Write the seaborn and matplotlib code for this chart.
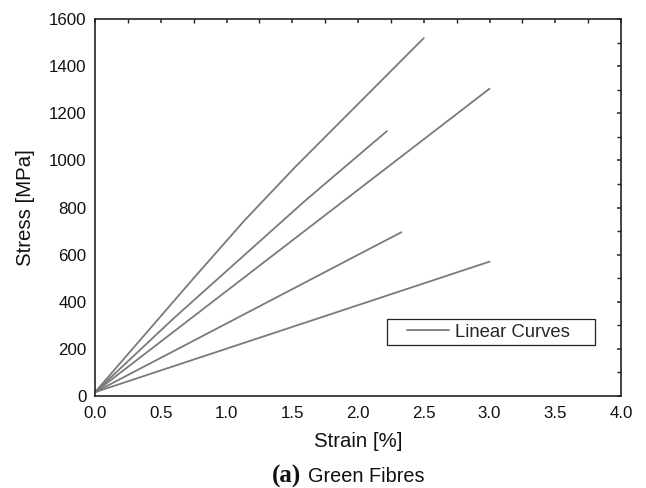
#!/usr/bin/env python3
"""Stress-strain curves of green fibres (linear curves)."""

import matplotlib.pyplot as plt
import pandas as pd
import seaborn as sns
from matplotlib.ticker import MultipleLocator

# values
strain_a = [0.0, 0.76, 1.14, 1.52, 2.5]
stress_a = [15, 506, 747, 971, 1520]

strain_b = [0.0, 0.6, 1.2, 1.6, 2.22]
stress_b = [15, 330, 630, 830, 1125]

strain_c = [0.0, 1.0, 2.0, 3.0]
stress_c = [15, 445, 875, 1305]

strain_d = [0.0, 1.0, 2.0, 2.33]
stress_d = [15, 307, 599, 695]

strain_e = [0.0, 1.0, 2.0, 3.0]
stress_e = [15, 200, 385, 570]

x_ticks = [0.0, 0.5, 1.0, 1.5, 2.0, 2.5, 3.0, 3.5, 4.0]
y_ticks = [0, 200, 400, 600, 800, 1000, 1200, 1400, 1600]

curves = {
    "a": (strain_a, stress_a),
    "b": (strain_b, stress_b),
    "c": (strain_c, stress_c),
    "d": (strain_d, stress_d),
    "e": (strain_e, stress_e),
}

frames = []
for name, (xs, ys) in curves.items():
    frames.append(pd.DataFrame({"strain": xs, "stress": ys, "curve": name}))
df = pd.concat(frames, ignore_index=True)

sns.set_style("white")
plt.rcParams["font.family"] = ["Liberation Sans", "DejaVu Sans"]

fig = plt.figure(figsize=(6.46, 4.88), dpi=100)
ax = fig.add_axes([0.1471, 0.1891, 0.8142, 0.7713])

sns.lineplot(
    data=df,
    x="strain",
    y="stress",
    units="curve",
    estimator=None,
    color="#7a7a7a",
    linewidth=1.3,
    label="Linear Curves",
    ax=ax,
)

ax.set_xlim(0, 4.0)
ax.set_ylim(0, 1600)
ax.set_xticks(x_ticks)
ax.set_xticklabels([f"{v:.1f}" for v in x_ticks])
ax.set_yticks(y_ticks)
ax.set_yticklabels([str(v) for v in y_ticks])
ax.xaxis.set_minor_locator(MultipleLocator(0.25))
ax.yaxis.set_minor_locator(MultipleLocator(100))

for side in ["left", "right", "top", "bottom"]:
    ax.spines[side].set_visible(True)
    ax.spines[side].set_color("#222222")
    ax.spines[side].set_linewidth(1.2)

ax.tick_params(axis="both", which="major", direction="in", length=6, width=1.1,
               color="#222222", labelsize=12.2, labelcolor="#111111")
ax.tick_params(axis="x", which="major", pad=7.5)
ax.tick_params(axis="y", which="major", pad=6)
ax.tick_params(axis="both", which="minor", direction="in", length=3, width=1.0,
               color="#222222")
ax.tick_params(top=True, right=True, which="both")
# the top and right sides only carry short ticks
for tick in ax.xaxis.get_major_ticks():
    tick.tick2line.set_markersize(3)
for tick in ax.yaxis.get_major_ticks():
    tick.tick2line.set_markersize(3)

ax.set_xlabel("Strain [%]", fontsize=14.7, color="#111111", labelpad=8)
ax.set_ylabel("Stress [MPa]", fontsize=14.7, color="#111111", labelpad=10)

handles, labels = ax.get_legend_handles_labels()
leg = ax.legend(handles[:1], ["Linear Curves    "], loc="upper left",
                bbox_to_anchor=(0.555, 0.2038), fontsize=13.3,
                frameon=True, fancybox=False, handlelength=3.1,
                handletextpad=0.32, borderpad=0.25, borderaxespad=0)
leg.get_frame().set_edgecolor("#222222")
leg.get_frame().set_linewidth(0.9)
leg.get_frame().set_alpha(1)
# the sample line starts some way in from the frame
legline = leg.legend_handles[0]
xd = list(legline.get_xdata())
yd = list(legline.get_ydata())
x0, x1 = min(xd), max(xd)
legline.set_data([x0 + (x1 - x0) * 0.27, x1], [yd[0], yd[0]])

fig.text(0.421, 0.0117, "(a)", family=["Liberation Serif", "DejaVu Serif"],
         weight="bold", fontsize=18, ha="left", va="baseline", color="#111111")
fig.text(0.477, 0.0117, "Green Fibres", fontsize=14.3, ha="left", va="baseline",
         color="#111111")

fig.savefig("out.png", dpi=100)
